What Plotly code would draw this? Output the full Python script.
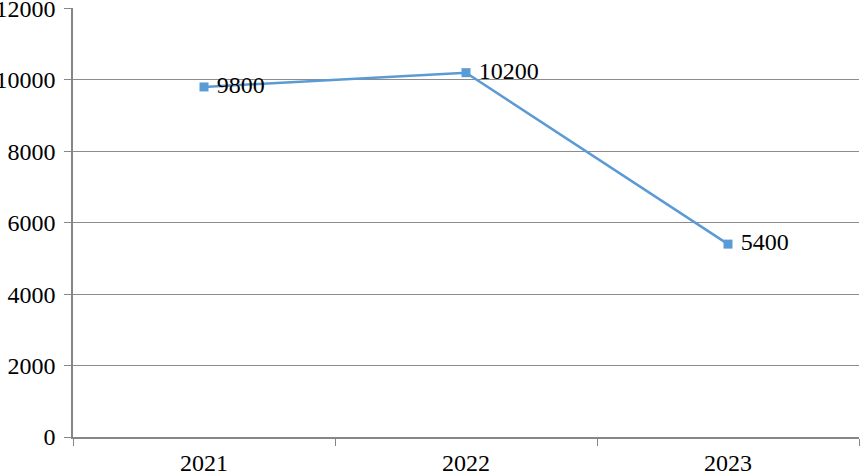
import plotly.graph_objects as go

years = ["2021", "2022", "2023"]
values = [9800, 10200, 5400]
labels = ["9800", "10200", "5400"]

FONT = "Liberation Serif, Times New Roman, serif"

fig = go.Figure()
fig.add_trace(go.Scatter(
    x=years, y=values, mode="lines+markers+text",
    text=labels, texttemplate="\u00a0%{text}", textposition="middle right",
    textfont=dict(family=FONT, size=24, color="black"),
    line=dict(color="#5B9BD5", width=2.5),
    marker=dict(symbol="square", size=9, color="#5B9BD5"),
    cliponaxis=False, hoverinfo="skip",
))

fig.update_layout(
    width=860, height=474,
    margin=dict(l=73, r=1, t=8, b=37, autoexpand=False),
    paper_bgcolor="white", plot_bgcolor="white",
    showlegend=False,
    font=dict(family=FONT, size=24, color="black"),
)
fig.update_xaxes(
    type="category", range=[-0.5, 2.5], automargin=False,
    showgrid=False, showline=True, linecolor="#868686", linewidth=1.5,
    ticks="outside", tickson="boundaries", ticklen=7, tickcolor="#868686",
    tickfont=dict(family=FONT, size=24), zeroline=False, ticklabelstandoff=3,
)
fig.update_yaxes(
    range=[0, 12010], tickvals=[0, 2000, 4000, 6000, 8000, 10000, 12000],
    tickformat="d", automargin=False, ticklabeloverflow="allow",
    showgrid=True, gridcolor="#8c8c8c", gridwidth=1,
    showline=True, linecolor="#868686", linewidth=1.5,
    ticks="outside", ticklen=7, tickcolor="#868686",
    tickfont=dict(family=FONT, size=24), zeroline=False, ticklabelstandoff=4,
)

fig.write_html(
    "out.html",
    config={"displayModeBar": False},
    post_script="document.body.style.margin='0';document.body.style.overflow='hidden';",
)
